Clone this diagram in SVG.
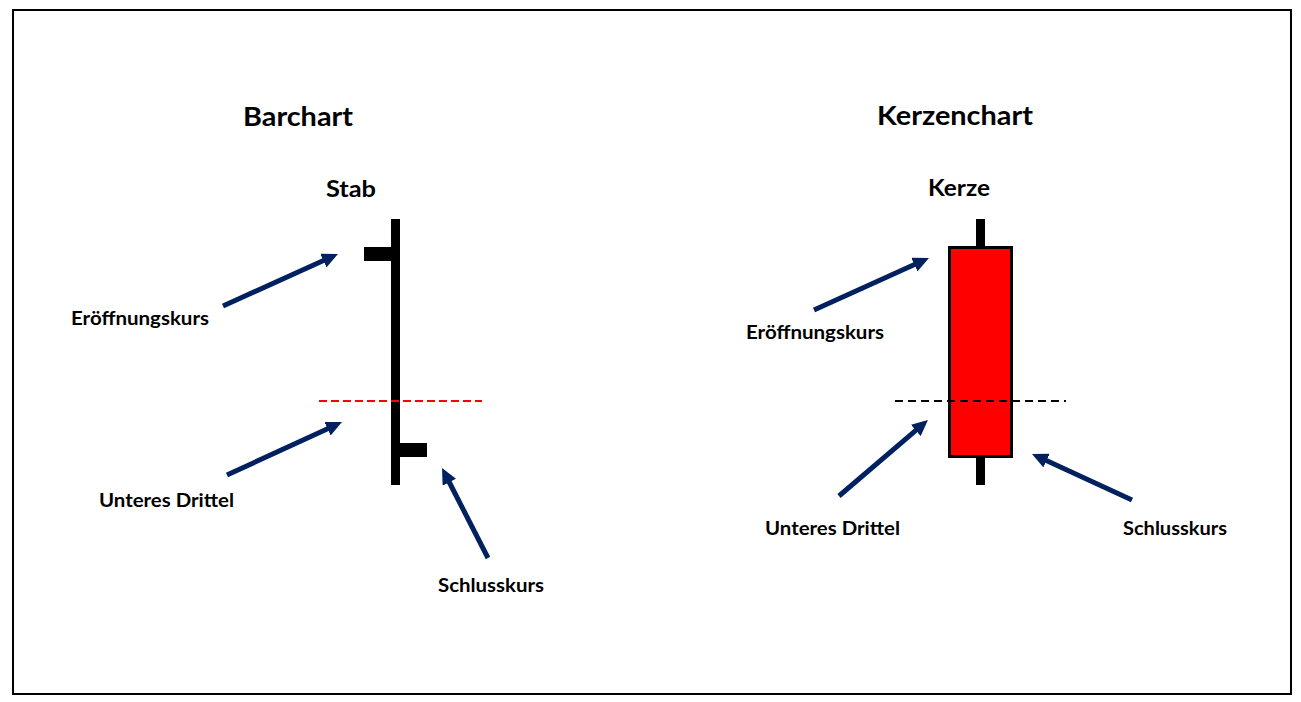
<svg xmlns="http://www.w3.org/2000/svg" width="1301" height="702" viewBox="0 0 1301 702">
<style>
text{font-family:Lato,"Open Sans","Liberation Sans",sans-serif;font-weight:bold;fill:#000}
.t1{font-size:27px}
.t2{font-size:23px}
.lb{font-size:19px}
.arr{stroke:#002060;stroke-width:5;fill:none;marker-end:url(#ah)}
.bar{fill:#000}
</style>
<defs>
<marker id="ah" markerUnits="userSpaceOnUse" markerWidth="16" markerHeight="15" refX="2" refY="7.5" orient="auto">
<path d="M0,0 L16,7.5 L0,15 Z" fill="#002060"/>
</marker>
</defs>
<rect x="13" y="10" width="1278" height="684" fill="#fff" stroke="#000" stroke-width="2"/>

<g id="barchart">
<text class="t1" x="243" y="126" textLength="110" lengthAdjust="spacingAndGlyphs">Barchart</text>
<text class="t2" x="326" y="197" textLength="50" lengthAdjust="spacingAndGlyphs">Stab</text>
<rect class="bar" x="391" y="219" width="9" height="266"/>
<rect class="bar" x="364" y="247" width="27" height="14"/>
<rect class="bar" x="400" y="443" width="27" height="14"/>
<line x1="319" y1="401" x2="482" y2="401" stroke="#ff0000" stroke-width="2" stroke-dasharray="8 4"/>
</g>

<g id="kerzenchart">
<text class="t1" x="877" y="125" textLength="156" lengthAdjust="spacingAndGlyphs">Kerzenchart</text>
<text class="t2" x="928" y="196" textLength="62" lengthAdjust="spacingAndGlyphs">Kerze</text>
<rect class="bar" x="976" y="219" width="9" height="29"/>
<rect class="bar" x="976" y="456" width="9" height="29"/>
<rect x="949.5" y="247.5" width="62" height="209" fill="#ff0000" stroke="#000" stroke-width="3"/>
<line x1="895" y1="401" x2="1066" y2="401" stroke="#000" stroke-width="2" stroke-dasharray="8 5"/>
</g>

<g id="labels-left">
<text class="lb" x="71" y="325" textLength="138" lengthAdjust="spacingAndGlyphs">Eröffnungskurs</text>
<text class="lb" x="99" y="507" textLength="135" lengthAdjust="spacingAndGlyphs">Unteres Drittel</text>
<text class="lb" x="438" y="592" textLength="106" lengthAdjust="spacingAndGlyphs">Schlusskurs</text>
</g>

<g id="labels-right">
<text class="lb" x="746" y="339" textLength="138" lengthAdjust="spacingAndGlyphs">Eröffnungskurs</text>
<text class="lb" x="765" y="535" textLength="135" lengthAdjust="spacingAndGlyphs">Unteres Drittel</text>
<text class="lb" x="1123" y="535" textLength="104" lengthAdjust="spacingAndGlyphs">Schlusskurs</text>
</g>

<g id="connectors">
<line class="arr" x1="223" y1="306" x2="325.2" y2="259.8"/>
<line class="arr" x1="227" y1="475" x2="329.3" y2="427.9"/>
<line class="arr" x1="488" y1="558" x2="448.4" y2="480.5"/>
<line class="arr" x1="814" y1="310" x2="916.2" y2="263.8"/>
<line class="arr" x1="839" y1="496" x2="917.3" y2="429.1"/>
<line class="arr" x1="1132" y1="500" x2="1044.7" y2="459.8"/>
</g>
</svg>
